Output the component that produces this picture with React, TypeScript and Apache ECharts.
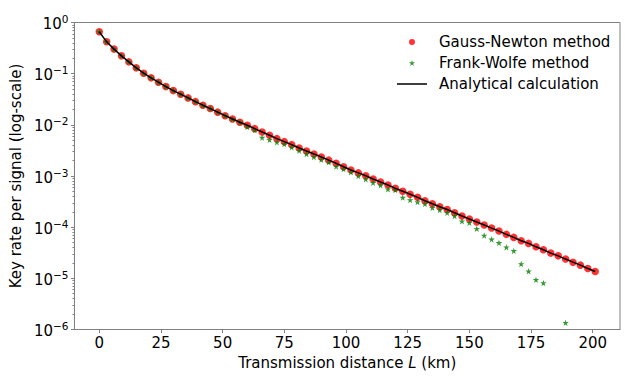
import React, { useEffect, useRef } from "react";
import * as echarts from "echarts";

const distances = [
  0, 3, 6, 9, 12, 15, 18, 21, 24, 27, 30, 33, 36, 39, 42, 45, 48, 51, 54, 57,
  60, 63, 66, 69, 72, 75, 78, 81, 84, 87, 90, 93, 96, 99, 102, 105, 108, 111,
  114, 117, 120, 123, 126, 129, 132, 135, 138, 141, 144, 147, 150, 153, 156,
  159, 162, 165, 168, 171, 174, 177, 180, 183, 186, 189, 192, 195, 198, 201,
];

const gaussNewton = [
  0.658, 0.419, 0.302, 0.223, 0.17, 0.13, 0.102, 0.0828, 0.0682, 0.0559,
  0.0467, 0.0397, 0.0336, 0.0284, 0.0242, 0.0208, 0.0177, 0.0151, 0.013, 0.01124,
  0.00982, 0.00843, 0.00726, 0.00625, 0.00537, 0.00469, 0.0041, 0.00353, 0.00308, 0.0027,
  0.00235, 0.00204, 0.00177, 0.00152, 0.00131, 0.00115, 0.00101, 0.000873, 0.000763, 0.000667,
  0.000574, 0.000502, 0.000439, 0.000383, 0.000329, 0.000287, 0.000251, 0.000221, 0.000191, 0.000165,
  0.000144, 0.000126, 0.00011, 0.000096, 0.0000839, 0.0000723, 0.0000631, 0.0000542, 0.0000482, 0.0000413,
  0.0000361, 0.0000311, 0.0000275, 0.0000238, 0.0000207, 0.0000181, 0.0000156, 0.0000136,
];

const frankWolfe: (number | null)[] = [
  0.658, 0.419, 0.302, 0.223, 0.17, 0.13, 0.102, 0.0828, 0.0682, 0.0559,
  0.0467, 0.0397, 0.0336, 0.0284, 0.0242, 0.0208, 0.0177, 0.0151, 0.013, 0.01124,
  0.00909, 0.00794, 0.00562, 0.00513, 0.00456, 0.00423, 0.00365, 0.00313, 0.0027, 0.00235,
  0.00208, 0.00185, 0.00153, 0.00137, 0.00118, 0.001, 0.000861, 0.00074, 0.000658, 0.000552,
  0.000532, 0.000379, 0.000339, 0.00031, 0.000283, 0.00024, 0.000216, 0.000191, 0.000165, 0.00013,
  0.000122, 0.0000931, 0.0000685, 0.0000577, 0.0000493, 0.0000404, 0.0000344, 0.000019, 0.0000138, 0.00000935,
  0.00000813, null, null, 0.00000136, null, null, null, null,
];

const analytical = [
  0.658, 0.419, 0.302, 0.223, 0.17, 0.13, 0.102, 0.0828, 0.0682, 0.0559,
  0.0467, 0.0397, 0.0336, 0.0284, 0.0242, 0.0208, 0.0177, 0.0151, 0.013, 0.01124,
  0.00982, 0.00843, 0.00726, 0.00625, 0.00537, 0.00469, 0.0041, 0.00353, 0.00308, 0.0027,
  0.00235, 0.00204, 0.00177, 0.00152, 0.00131, 0.00115, 0.00101, 0.000873, 0.000763, 0.000667,
  0.000574, 0.000502, 0.000439, 0.000383, 0.000329, 0.000287, 0.000251, 0.000221, 0.000191, 0.000165,
  0.000144, 0.000126, 0.00011, 0.000096, 0.0000839, 0.0000723, 0.0000631, 0.0000542, 0.0000482, 0.0000413,
  0.0000361, 0.0000311, 0.0000275, 0.0000238, 0.0000207, 0.0000181, 0.0000156, 0.0000136,
];

const xTicks = [0, 25, 50, 75, 100, 125, 150, 175, 200];
const yTicks = [1e-6, 1e-5, 1e-4, 1e-3, 1e-2, 1e-1, 1];
const yMinorTicks: number[] = [];
for (let e = -6; e < 0; e++) {
  for (let m = 2; m <= 9; m++) yMinorTicks.push(m * Math.pow(10, e));
}

const seriesNames = ["Gauss-Newton method", "Frank-Wolfe method", "Analytical calculation"];

const FONT = "DejaVu Sans";
const GRAY = "#808080";

const STAR =
  "path://M10,0 L12.245,6.91 L19.511,6.91 L13.633,11.18 L15.878,18.09 L10,13.82 L4.122,18.09 L6.367,11.18 L0.489,6.91 L7.755,6.91 Z";
const BOX = "M0,0 L0.01,0 Z M37,10 L37.01,10 Z ";
const LEG_DOT = "path://" + BOX + "M12,5 A3,3 0 1,0 18,5 A3,3 0 1,0 12,5 Z";
const LEG_STAR =
  "path://" +
  BOX +
  "M15,2.1 L15.72,4.32 L18.04,4.32 L16.16,5.68 L16.88,7.89 L15,6.53 L13.12,7.89 L13.84,5.68 L11.96,4.32 L14.28,4.32 Z";
const LEG_LINE = "path://" + BOX + "M0,4.25 L30,4.25 L30,5.75 L0,5.75 Z";

function supLabel(v: number): string {
  const e = Math.round(Math.log10(v));
  const s = e < 0 ? "\u2212" + Math.abs(e) : String(e);
  return "{b|10}{sup|" + s + "}";
}

export default function App() {
  const ref = useRef<HTMLDivElement>(null);
  useEffect(() => {
    if (!ref.current) return;
    const chart = echarts.init(ref.current, null, { renderer: "svg" });
    const gnData = distances.map((d, i) => [d, gaussNewton[i]]);
    const fwData = distances
      .map((d, i) => [d, frankWolfe[i]])
      .filter((p) => p[1] !== null);
    const anData = distances.map((d, i) => [d, analytical[i]]);

    chart.setOption({
      animation: false,
      textStyle: { fontFamily: FONT },
      grid: {
        left: 71,
        top: 22.5,
        right: 16,
        bottom: 52.5,
        show: true,
        borderColor: GRAY,
        borderWidth: 1,
        backgroundColor: "transparent",
      },
      legend: {
        orient: "vertical",
        left: 397,
        top: 34.5,
        padding: 0,
        itemWidth: 37,
        itemHeight: 10,
        itemGap: 6,
        itemStyle: { borderWidth: 0 },
        textStyle: { fontFamily: FONT, fontSize: 15, color: "#000", lineHeight: 15 },
        data: [
          { name: seriesNames[0], icon: LEG_DOT },
          { name: seriesNames[1], icon: LEG_STAR },
          { name: seriesNames[2], icon: LEG_LINE },
        ],
      },
      xAxis: {
        type: "value",
        min: -10.05,
        max: 211.05,
        name: "Transmission distance {i|L} (km)",
        nameLocation: "middle",
        nameGap: 26,
        nameTextStyle: {
          fontFamily: FONT,
          fontSize: 15,
          color: "#000",
          rich: { i: { fontFamily: FONT, fontSize: 15, fontStyle: "italic", color: "#000" } },
        },
        axisLine: { show: true, onZero: false, lineStyle: { color: GRAY, width: 1 } },
        axisTick: { show: true, length: 3.5, lineStyle: { color: GRAY }, customValues: xTicks },
        axisLabel: {
          fontFamily: FONT,
          fontSize: 15,
          color: "#000",
          margin: 6,
          customValues: xTicks,
        },
        splitLine: { show: false },
      },
      yAxis: [
        {
          type: "log",
          logBase: 10,
          min: 1e-6,
          max: 1,
          name: "Key rate per signal (log-scale)",
          nameLocation: "middle",
          nameGap: 36,
          nameRotate: 90,
          nameTextStyle: { fontFamily: FONT, fontSize: 15, color: "#000" },
          axisLine: { show: true, onZero: false, lineStyle: { color: GRAY, width: 1 } },
          axisTick: { show: true, length: 3.5, lineStyle: { color: GRAY }, customValues: yTicks },
          axisLabel: {
            fontFamily: FONT,
            color: "#000",
            margin: 6,
            customValues: yTicks,
            formatter: (v: number) => supLabel(v),
            rich: {
              b: { fontFamily: FONT, fontSize: 15, color: "#000", lineHeight: 18, verticalAlign: "bottom" },
              sup: { fontFamily: FONT, fontSize: 10.5, color: "#000", lineHeight: 10, verticalAlign: "top" },
            },
          },
          splitLine: { show: false },
        },
        {
          type: "log",
          logBase: 10,
          min: 1e-6,
          max: 1,
          position: "left",
          axisLine: { show: false, onZero: false },
          axisTick: { show: true, length: 2, lineStyle: { color: GRAY }, customValues: yMinorTicks },
          axisLabel: { show: false },
          splitLine: { show: false },
        },
      ],
      series: [
        {
          name: seriesNames[0],
          type: "scatter",
          data: gnData,
          symbol: "circle",
          symbolSize: 7.5,
          itemStyle: { color: "#ff0000" },
          z: 2,
        },
        {
          name: seriesNames[1],
          type: "scatter",
          data: fwData,
          symbol: STAR,
          symbolSize: 6.5,
          itemStyle: { color: "#008000" },
          z: 3,
        },
        {
          name: seriesNames[2],
          type: "line",
          data: anData,
          symbol: "none",
          showSymbol: false,
          lineStyle: { color: "#000", width: 1.5 },
          itemStyle: { color: "#000" },
          z: 4,
        },
      ],
    });
    return () => chart.dispose();
  }, []);
  return (
    <div
      ref={ref}
      style={{ position: "fixed", left: 0, top: 0, width: 636, height: 382, background: "#fff" }}
    />
  );
}
